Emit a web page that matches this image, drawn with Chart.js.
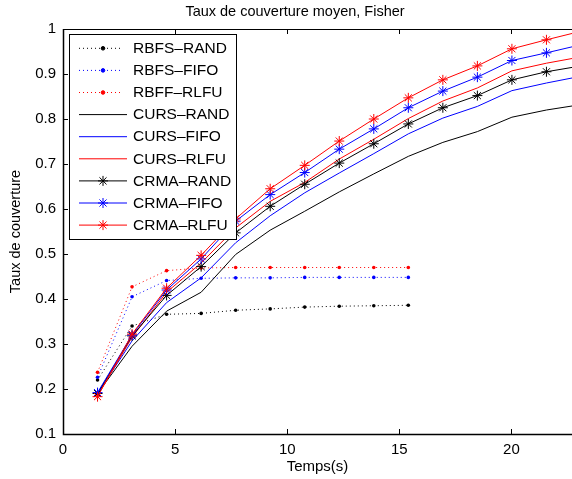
<!DOCTYPE html>
<html>
<head>
<meta charset="utf-8">
<script src="https://cdn.jsdelivr.net/npm/chart.js@4.4.1/dist/chart.umd.min.js"></script>
<style>
  html, body { margin: 0; padding: 0; background: #fff; }
  #wrap { width: 572px; height: 479px; }
</style>
</head>
<body>
<div id="wrap"><canvas id="coverageChart" width="572" height="479"></canvas></div>
<script>
// Sampling instants (s) for the CURS / CRMA runs, and the shorter RBF runs
const temps = [1.54, 3.08, 4.62, 6.16, 7.7, 9.24, 10.78, 12.32, 13.86, 15.4, 16.94, 18.48, 20.02, 21.56, 23.1];
const tempsRbf = [1.54, 3.08, 4.62, 6.16, 7.7, 9.24, 10.78, 12.32, 13.86, 15.4];

const rbfsRand = [0.220, 0.340, 0.366, 0.368, 0.375, 0.378, 0.382, 0.384, 0.385, 0.386];
const rbfsFifo = [0.226, 0.405, 0.441, 0.446, 0.447, 0.447, 0.448, 0.448, 0.448, 0.448];
const rbffRlfu = [0.237, 0.427, 0.463, 0.469, 0.470, 0.470, 0.470, 0.470, 0.470, 0.470];

const cursRand = [0.190, 0.295, 0.373, 0.415, 0.499, 0.553, 0.595, 0.638, 0.678, 0.717, 0.748, 0.772, 0.804, 0.820, 0.832];
const cursFifo = [0.190, 0.307, 0.392, 0.447, 0.525, 0.585, 0.636, 0.680, 0.723, 0.767, 0.802, 0.828, 0.863, 0.880, 0.895];
const cursRlfu = [0.185, 0.315, 0.415, 0.480, 0.558, 0.617, 0.659, 0.711, 0.755, 0.801, 0.840, 0.869, 0.907, 0.924, 0.938];

const crmaRand = [0.190, 0.318, 0.408, 0.472, 0.547, 0.606, 0.655, 0.702, 0.745, 0.789, 0.825, 0.852, 0.887, 0.905, 0.918];
const crmaFifo = [0.192, 0.320, 0.420, 0.489, 0.573, 0.632, 0.681, 0.733, 0.778, 0.825, 0.862, 0.893, 0.930, 0.947, 0.965];
const crmaRlfu = [0.183, 0.322, 0.424, 0.497, 0.578, 0.645, 0.697, 0.751, 0.800, 0.847, 0.887, 0.918, 0.956, 0.976, 0.995];

const xTicks = [0, 5, 10, 15, 20];
const yTicks = [0.1, 0.2, 0.3, 0.4, 0.5, 0.6, 0.7, 0.8, 0.9, 1];

const FONT = '"Liberation Sans", Arial, Helvetica, sans-serif';
const BLACK = '#000000';
const BLUE = '#0000ff';
const RED = '#ff0000';

function pairs(xs, ys) {
  return ys.map((y, i) => ({ x: xs[i], y }));
}

// MATLAB-ish ':.' style for the RBF runs, '-' and '-*' for the others
function dotted(label, xs, ys, color) {
  return {
    label, data: pairs(xs, ys),
    borderColor: color, backgroundColor: color,
    borderWidth: 1, borderDash: [1, 3],
    pointStyle: 'circle', pointRadius: 1.8, pointBorderWidth: 0,
    legendLine: [79, 123],
  };
}
function solid(label, xs, ys, color, star) {
  return {
    label, data: pairs(xs, ys),
    borderColor: color, backgroundColor: color,
    borderWidth: 1, borderDash: [],
    pointStyle: star ? 'star' : 'circle', pointRadius: star ? 5 : 0, pointBorderWidth: 1,
    legendLine: [79, 127],
  };
}

const datasets = [
  dotted('RBFS–RAND', tempsRbf, rbfsRand, BLACK),
  dotted('RBFS–FIFO', tempsRbf, rbfsFifo, BLUE),
  dotted('RBFF–RLFU', tempsRbf, rbffRlfu, RED),
  solid('CURS–RAND', temps, cursRand, BLACK, false),
  solid('CURS–FIFO', temps, cursFifo, BLUE, false),
  solid('CURS–RLFU', temps, cursRlfu, RED, false),
  solid('CRMA–RAND', temps, crmaRand, BLACK, true),
  solid('CRMA–FIFO', temps, crmaFifo, BLUE, true),
  solid('CRMA–RLFU', temps, crmaRlfu, RED, true),
];
// later series paint over earlier ones
datasets.forEach((ds, i) => { ds.order = datasets.length - i; });

// axes box with inward tick marks, drawn over the curves
const axesFrame = {
  id: 'axesFrame',
  afterDatasetsDraw(chart) {
    const { ctx, chartArea: { left, right, top, bottom }, scales } = chart;
    ctx.save();
    ctx.strokeStyle = BLACK;
    ctx.lineWidth = 1;
    ctx.beginPath();
    ctx.moveTo(left + 0.5, top + 0.5);
    ctx.lineTo(right + 1, top + 0.5);
    ctx.stroke();
    ctx.lineWidth = 1.5;
    ctx.beginPath();
    ctx.moveTo(left + 0.5, top);
    ctx.lineTo(left + 0.5, bottom + 0.5);
    ctx.lineTo(right + 1, bottom + 0.5);
    ctx.stroke();
    ctx.lineWidth = 1;
    ctx.beginPath();
    xTicks.forEach(v => {
      const px = Math.round(scales.x.getPixelForValue(v)) + 0.5;
      ctx.moveTo(px, bottom); ctx.lineTo(px, bottom - 5);
      ctx.moveTo(px, top); ctx.lineTo(px, top + 5);
    });
    yTicks.forEach(v => {
      const py = Math.round(scales.y.getPixelForValue(v)) + 0.5;
      ctx.moveTo(left, py); ctx.lineTo(left + 5, py);
    });
    ctx.stroke();
    ctx.restore();
  },
};

// boxed legend in the upper-left corner of the axes
const boxedLegend = {
  id: 'boxedLegend',
  afterDraw(chart) {
    const { ctx } = chart;
    const boxLeft = 69, boxTop = 34, boxW = 167, boxH = 205;
    const firstRow = 48.3, rowStep = 22.1;
    ctx.save();
    ctx.fillStyle = '#fff';
    ctx.fillRect(boxLeft, boxTop, boxW, boxH);
    ctx.strokeStyle = BLACK;
    ctx.lineWidth = 1;
    ctx.strokeRect(boxLeft + 0.5, boxTop + 0.5, boxW, boxH);
    chart.data.datasets.forEach((ds, i) => {
      const y = firstRow + i * rowStep;
      const [x0, x1] = ds.legendLine;
      ctx.strokeStyle = ds.borderColor;
      ctx.fillStyle = ds.backgroundColor;
      ctx.lineWidth = ds.borderWidth;
      ctx.setLineDash(ds.borderDash);
      ctx.beginPath();
      ctx.moveTo(x0, y);
      ctx.lineTo(x1, y);
      ctx.stroke();
      ctx.setLineDash([]);
      if (ds.pointRadius > 0) {
        Chart.helpers.drawPoint(ctx, {
          pointStyle: ds.pointStyle, radius: ds.pointRadius,
          borderWidth: ds.pointBorderWidth || 1, rotation: 0,
        }, 103, y);
      }
      ctx.fillStyle = BLACK;
      ctx.font = '15.5px ' + FONT;
      ctx.textAlign = 'left';
      ctx.textBaseline = 'middle';
      ctx.fillText(ds.label, 133, y + 0.5);
    });
    ctx.restore();
  },
};

const plotTitle = {
  id: 'plotTitle',
  afterDraw(chart) {
    const { ctx } = chart;
    ctx.save();
    ctx.fillStyle = BLACK;
    ctx.font = '14.5px ' + FONT;
    ctx.textAlign = 'center';
    ctx.textBaseline = 'middle';
    ctx.fillText('Taux de couverture moyen, Fisher', 295, 12);
    ctx.restore();
  },
};

const ctxCoverage = document.getElementById('coverageChart').getContext('2d');
new Chart(ctxCoverage, {
  type: 'line',
  data: { datasets },
  options: {
    responsive: false,
    animation: false,
    devicePixelRatio: 1,
    // no extra room for point overflow: the axes run right up to the canvas edge
    layout: { autoPadding: false, padding: { top: 29, right: 0, left: 0, bottom: 0 } },
    plugins: {
      legend: { display: false },
      title: { display: false },
      tooltip: { enabled: false },
    },
    elements: { line: { tension: 0 } },
    scales: {
      x: {
        type: 'linear',
        min: 0,
        max: 22.7,
        afterFit(scale) {
          scale.height = 45;
          scale.paddingLeft = 0;
          scale.paddingRight = 0;
        },
        grid: { display: false, drawTicks: false },
        border: { display: false },
        ticks: {
          stepSize: 5, includeBounds: false, padding: 7,
          color: BLACK, font: { family: FONT, size: 15 }, maxRotation: 0,
        },
        title: {
          display: true, text: 'Temps(s)', color: BLACK,
          font: { family: FONT, size: 15 }, padding: { top: 0, bottom: 3 },
        },
      },
      y: {
        min: 0.1,
        max: 1,
        afterFit(scale) {
          scale.width = 63;
          scale.paddingTop = 0;
          scale.paddingBottom = 0;
        },
        grid: { display: false, drawTicks: false },
        border: { display: false },
        ticks: {
          stepSize: 0.1, padding: 7, color: BLACK,
          font: { family: FONT, size: 15 },
          callback: v => String(Number(v.toFixed(1))),
        },
        title: {
          display: true, text: 'Taux de couverture', color: BLACK,
          font: { family: FONT, size: 14.5 }, padding: { top: 7, bottom: 0 },
        },
      },
    },
  },
  plugins: [axesFrame, boxedLegend, plotTitle],
});
</script>
</body>
</html>
